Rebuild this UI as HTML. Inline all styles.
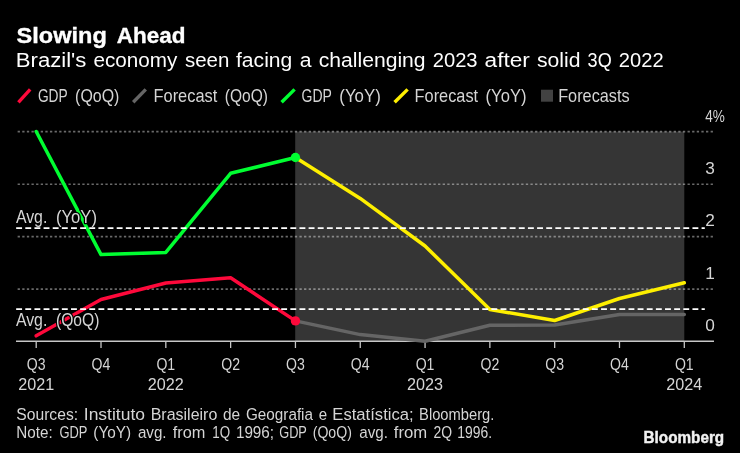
<!DOCTYPE html>
<html><head><meta charset="utf-8"><title>Slowing Ahead</title>
<style>
html,body{margin:0;padding:0;background:#000;}
body{width:740px;height:453px;overflow:hidden;font-family:"Liberation Sans",sans-serif;}
svg{display:block;will-change:transform;opacity:0.999;}
svg text{font-family:"Liberation Sans",sans-serif;}
</style></head><body>
<svg width="740" height="453" viewBox="0 0 740 453">
<rect x="0" y="0" width="740" height="453" fill="#000"/>
<rect x="295.2" y="131.6" width="389.1" height="209.6" fill="#363636"/>
<line x1="16" x2="714" y1="131.7" y2="131.7" stroke="#ffffff" stroke-opacity="0.42" stroke-width="1.7" stroke-dasharray="2.31 2.31" stroke-dashoffset="3"/>
<line x1="16" x2="714" y1="184.25" y2="184.25" stroke="#ffffff" stroke-opacity="0.42" stroke-width="1.7" stroke-dasharray="2.31 2.31" stroke-dashoffset="3"/>
<line x1="16" x2="714" y1="236.7" y2="236.7" stroke="#ffffff" stroke-opacity="0.42" stroke-width="1.7" stroke-dasharray="2.31 2.31" stroke-dashoffset="3"/>
<line x1="16" x2="714" y1="289.1" y2="289.1" stroke="#ffffff" stroke-opacity="0.42" stroke-width="1.7" stroke-dasharray="2.31 2.31" stroke-dashoffset="3"/>
<line x1="16" x2="714" y1="341.2" y2="341.2" stroke="#c8c8c8" stroke-width="1.4"/>
<line x1="36.2" x2="36.2" y1="341" y2="348" stroke="#c8c8c8" stroke-width="1.3"/>
<line x1="101.01" x2="101.01" y1="341" y2="348" stroke="#c8c8c8" stroke-width="1.3"/>
<line x1="165.82" x2="165.82" y1="341" y2="348" stroke="#c8c8c8" stroke-width="1.3"/>
<line x1="230.63" x2="230.63" y1="341" y2="348" stroke="#c8c8c8" stroke-width="1.3"/>
<line x1="295.44" x2="295.44" y1="341" y2="348" stroke="#c8c8c8" stroke-width="1.3"/>
<line x1="360.25" x2="360.25" y1="341" y2="348" stroke="#c8c8c8" stroke-width="1.3"/>
<line x1="425.06" x2="425.06" y1="341" y2="348" stroke="#c8c8c8" stroke-width="1.3"/>
<line x1="489.87" x2="489.87" y1="341" y2="348" stroke="#c8c8c8" stroke-width="1.3"/>
<line x1="554.68" x2="554.68" y1="341" y2="348" stroke="#c8c8c8" stroke-width="1.3"/>
<line x1="619.49" x2="619.49" y1="341" y2="348" stroke="#c8c8c8" stroke-width="1.3"/>
<line x1="684.3" x2="684.3" y1="341" y2="348" stroke="#c8c8c8" stroke-width="1.3"/>
<polyline points="295.44,320.9 360.25,334.6 425.06,341.2 489.87,325.3 554.68,325 619.49,314.5 684.3,314.5" fill="none" stroke="#666666" stroke-width="3.5" stroke-linejoin="round" stroke-linecap="round"/>
<polyline points="36.2,335.8 101.01,299.5 165.82,283 230.63,277.8 295.44,320.9" fill="none" stroke="#ff0a3c" stroke-width="3.5" stroke-linejoin="round" stroke-linecap="round"/>
<polyline points="295.44,157.5 360.25,198.4 425.06,246 489.87,309.5 554.68,320.5 619.49,298.5 684.3,282.8" fill="none" stroke="#fff000" stroke-width="3.5" stroke-linejoin="round" stroke-linecap="round"/>
<polyline points="36.2,131.5 101.01,254.6 165.82,252.4 230.63,173.3 295.44,157.5" fill="none" stroke="#00ff32" stroke-width="3.5" stroke-linejoin="round" stroke-linecap="round"/>
<circle cx="295.44" cy="157.5" r="4.7" fill="#00ff32"/>
<circle cx="295.44" cy="320.9" r="4.7" fill="#ff0a3c"/>
<text stroke="#000" stroke-width="2.6" stroke-linejoin="round" x="15.9" y="222.8" font-size="17.6" font-weight="normal" fill="#000" textLength="31.4" lengthAdjust="spacingAndGlyphs">Avg.</text>
<text stroke="#000" stroke-width="2.6" stroke-linejoin="round" x="56.0" y="222.8" font-size="17.6" font-weight="normal" fill="#000" textLength="41.0" lengthAdjust="spacingAndGlyphs">(YoY)</text>
<text stroke="#000" stroke-width="2.6" stroke-linejoin="round" x="15.9" y="326.2" font-size="17.6" font-weight="normal" fill="#000" textLength="31.4" lengthAdjust="spacingAndGlyphs">Avg.</text>
<text stroke="#000" stroke-width="2.6" stroke-linejoin="round" x="56.0" y="326.2" font-size="17.6" font-weight="normal" fill="#000" textLength="43.4" lengthAdjust="spacingAndGlyphs">(QoQ)</text>
<line x1="16.16" x2="704.8" y1="228.1" y2="228.1" stroke="#ffffff" stroke-width="1.8" stroke-dasharray="5.9 3.239"/>
<line x1="16.16" x2="704.8" y1="309.1" y2="309.1" stroke="#ffffff" stroke-width="1.8" stroke-dasharray="5.9 3.239"/>
<text x="15.9" y="222.8" font-size="17.6" font-weight="normal" fill="#d6d6d6" textLength="31.4" lengthAdjust="spacingAndGlyphs">Avg.</text>
<text x="56.0" y="222.8" font-size="17.6" font-weight="normal" fill="#d6d6d6" textLength="41.0" lengthAdjust="spacingAndGlyphs">(YoY)</text>
<text x="15.9" y="326.2" font-size="17.6" font-weight="normal" fill="#d6d6d6" textLength="31.4" lengthAdjust="spacingAndGlyphs">Avg.</text>
<text x="56.0" y="326.2" font-size="17.6" font-weight="normal" fill="#d6d6d6" textLength="43.4" lengthAdjust="spacingAndGlyphs">(QoQ)</text>
<text stroke="#fff" stroke-width="0.35" x="16.6" y="42.8" font-size="22" font-weight="bold" fill="#ffffff" textLength="90.2" lengthAdjust="spacingAndGlyphs">Slowing</text>
<text stroke="#fff" stroke-width="0.35" x="116.8" y="42.8" font-size="22" font-weight="bold" fill="#ffffff" textLength="68.6" lengthAdjust="spacingAndGlyphs">Ahead</text>
<text x="15.799999999999999" y="67.1" font-size="19.6" font-weight="normal" fill="#ffffff" textLength="70.6" lengthAdjust="spacingAndGlyphs">Brazil's</text>
<text x="93.5" y="67.1" font-size="19.6" font-weight="normal" fill="#ffffff" textLength="83.9" lengthAdjust="spacingAndGlyphs">economy</text>
<text x="184.9" y="67.1" font-size="19.6" font-weight="normal" fill="#ffffff" textLength="44.4" lengthAdjust="spacingAndGlyphs">seen</text>
<text x="236.0" y="67.1" font-size="19.6" font-weight="normal" fill="#ffffff" textLength="56.3" lengthAdjust="spacingAndGlyphs">facing</text>
<text x="299.79999999999995" y="67.1" font-size="19.6" font-weight="normal" fill="#ffffff" textLength="11.8" lengthAdjust="spacingAndGlyphs">a</text>
<text x="318.7" y="67.1" font-size="19.6" font-weight="normal" fill="#ffffff" textLength="106.9" lengthAdjust="spacingAndGlyphs">challenging</text>
<text x="432.7" y="67.1" font-size="19.6" font-weight="normal" fill="#ffffff" textLength="44.9" lengthAdjust="spacingAndGlyphs">2023</text>
<text x="484.59999999999997" y="67.1" font-size="19.6" font-weight="normal" fill="#ffffff" textLength="45.3" lengthAdjust="spacingAndGlyphs">after</text>
<text x="537.0" y="67.1" font-size="19.6" font-weight="normal" fill="#ffffff" textLength="43.5" lengthAdjust="spacingAndGlyphs">solid</text>
<text x="587.6" y="67.1" font-size="19.6" font-weight="normal" fill="#ffffff" textLength="24.1" lengthAdjust="spacingAndGlyphs">3Q</text>
<text x="618.8" y="67.1" font-size="19.6" font-weight="normal" fill="#ffffff" textLength="44.8" lengthAdjust="spacingAndGlyphs">2022</text>
<line x1="18.4" y1="102.3" x2="30.2" y2="89.4" stroke="#ff0a3c" stroke-width="3.4"/>
<text x="37.9" y="101.5" font-size="17.7" font-weight="normal" fill="#d6d6d6" textLength="29.8" lengthAdjust="spacingAndGlyphs">GDP</text>
<text x="75.1" y="101.5" font-size="17.7" font-weight="normal" fill="#d6d6d6" textLength="44.3" lengthAdjust="spacingAndGlyphs">(QoQ)</text>
<line x1="133.2" y1="102.3" x2="145.8" y2="89.4" stroke="#666666" stroke-width="3.4"/>
<text x="153.5" y="101.5" font-size="17.7" font-weight="normal" fill="#d6d6d6" textLength="63.8" lengthAdjust="spacingAndGlyphs">Forecast</text>
<text x="224.8" y="101.5" font-size="17.7" font-weight="normal" fill="#d6d6d6" textLength="43.2" lengthAdjust="spacingAndGlyphs">(QoQ)</text>
<line x1="281.6" y1="102.3" x2="294.6" y2="89.4" stroke="#00ff32" stroke-width="3.4"/>
<text x="301.5" y="101.5" font-size="17.7" font-weight="normal" fill="#d6d6d6" textLength="30.4" lengthAdjust="spacingAndGlyphs">GDP</text>
<text x="339.3" y="101.5" font-size="17.7" font-weight="normal" fill="#d6d6d6" textLength="41.5" lengthAdjust="spacingAndGlyphs">(YoY)</text>
<line x1="394.6" y1="102.3" x2="407.6" y2="89.4" stroke="#fff000" stroke-width="3.4"/>
<text x="414.6" y="101.5" font-size="17.7" font-weight="normal" fill="#d6d6d6" textLength="63.5" lengthAdjust="spacingAndGlyphs">Forecast</text>
<text x="485.6" y="101.5" font-size="17.7" font-weight="normal" fill="#d6d6d6" textLength="40.9" lengthAdjust="spacingAndGlyphs">(YoY)</text>
<rect x="541" y="89.7" width="12" height="12" fill="#434343"/>
<text x="558.2" y="101.5" font-size="17.7" font-weight="normal" fill="#d6d6d6" textLength="71.4" lengthAdjust="spacingAndGlyphs">Forecasts</text>
<text x="705.2" y="121.5" font-size="17.3" font-weight="normal" fill="#d6d6d6" textLength="19.6" lengthAdjust="spacingAndGlyphs">4%</text>
<text x="705.2" y="173.5" font-size="17.3" font-weight="normal" fill="#d6d6d6" textLength="9.6" lengthAdjust="spacingAndGlyphs">3</text>
<text x="705.2" y="226" font-size="17.3" font-weight="normal" fill="#d6d6d6" textLength="9.6" lengthAdjust="spacingAndGlyphs">2</text>
<text x="705.2" y="278.7" font-size="17.3" font-weight="normal" fill="#d6d6d6" textLength="9.6" lengthAdjust="spacingAndGlyphs">1</text>
<text x="705.2" y="330.6" font-size="17.3" font-weight="normal" fill="#d6d6d6" textLength="9.6" lengthAdjust="spacingAndGlyphs">0</text>
<text x="26.800000000000004" y="370" font-size="17.1" font-weight="normal" fill="#d6d6d6" textLength="18.8" lengthAdjust="spacingAndGlyphs">Q3</text>
<text x="91.61" y="370" font-size="17.1" font-weight="normal" fill="#d6d6d6" textLength="18.8" lengthAdjust="spacingAndGlyphs">Q4</text>
<text x="156.42" y="370" font-size="17.1" font-weight="normal" fill="#d6d6d6" textLength="18.8" lengthAdjust="spacingAndGlyphs">Q1</text>
<text x="221.23" y="370" font-size="17.1" font-weight="normal" fill="#d6d6d6" textLength="18.8" lengthAdjust="spacingAndGlyphs">Q2</text>
<text x="286.04" y="370" font-size="17.1" font-weight="normal" fill="#d6d6d6" textLength="18.8" lengthAdjust="spacingAndGlyphs">Q3</text>
<text x="350.85" y="370" font-size="17.1" font-weight="normal" fill="#d6d6d6" textLength="18.8" lengthAdjust="spacingAndGlyphs">Q4</text>
<text x="415.66" y="370" font-size="17.1" font-weight="normal" fill="#d6d6d6" textLength="18.8" lengthAdjust="spacingAndGlyphs">Q1</text>
<text x="480.47" y="370" font-size="17.1" font-weight="normal" fill="#d6d6d6" textLength="18.8" lengthAdjust="spacingAndGlyphs">Q2</text>
<text x="545.28" y="370" font-size="17.1" font-weight="normal" fill="#d6d6d6" textLength="18.8" lengthAdjust="spacingAndGlyphs">Q3</text>
<text x="610.09" y="370" font-size="17.1" font-weight="normal" fill="#d6d6d6" textLength="18.8" lengthAdjust="spacingAndGlyphs">Q4</text>
<text x="674.9" y="370" font-size="17.1" font-weight="normal" fill="#d6d6d6" textLength="18.8" lengthAdjust="spacingAndGlyphs">Q1</text>
<text x="18.200000000000003" y="390.3" font-size="17.1" font-weight="normal" fill="#d6d6d6" textLength="36.0" lengthAdjust="spacingAndGlyphs">2021</text>
<text x="147.82" y="390.3" font-size="17.1" font-weight="normal" fill="#d6d6d6" textLength="36.0" lengthAdjust="spacingAndGlyphs">2022</text>
<text x="407.06" y="390.3" font-size="17.1" font-weight="normal" fill="#d6d6d6" textLength="36.0" lengthAdjust="spacingAndGlyphs">2023</text>
<text x="666.3" y="390.3" font-size="17.1" font-weight="normal" fill="#d6d6d6" textLength="36.0" lengthAdjust="spacingAndGlyphs">2024</text>
<text x="16.3" y="420" font-size="16.3" font-weight="normal" fill="#d6d6d6" textLength="61.8" lengthAdjust="spacingAndGlyphs">Sources:</text>
<text x="83.8" y="420" font-size="16.3" font-weight="normal" fill="#d6d6d6" textLength="61.2" lengthAdjust="spacingAndGlyphs">Instituto</text>
<text x="150.7" y="420" font-size="16.3" font-weight="normal" fill="#d6d6d6" textLength="66.6" lengthAdjust="spacingAndGlyphs">Brasileiro</text>
<text x="223.0" y="420" font-size="16.3" font-weight="normal" fill="#d6d6d6" textLength="17.2" lengthAdjust="spacingAndGlyphs">de</text>
<text x="246.0" y="420" font-size="16.3" font-weight="normal" fill="#d6d6d6" textLength="67.0" lengthAdjust="spacingAndGlyphs">Geografia</text>
<text x="318.8" y="420" font-size="16.3" font-weight="normal" fill="#d6d6d6" textLength="8.4" lengthAdjust="spacingAndGlyphs">e</text>
<text x="332.3" y="420" font-size="16.3" font-weight="normal" fill="#d6d6d6" textLength="81.4" lengthAdjust="spacingAndGlyphs">Estatística;</text>
<text x="419.1" y="420" font-size="16.3" font-weight="normal" fill="#d6d6d6" textLength="75.3" lengthAdjust="spacingAndGlyphs">Bloomberg.</text>
<text x="16.3" y="437.6" font-size="16.3" font-weight="normal" fill="#d6d6d6" textLength="36.4" lengthAdjust="spacingAndGlyphs">Note:</text>
<text x="59.5" y="437.6" font-size="16.3" font-weight="normal" fill="#d6d6d6" textLength="28.0" lengthAdjust="spacingAndGlyphs">GDP</text>
<text x="93.3" y="437.6" font-size="16.3" font-weight="normal" fill="#d6d6d6" textLength="37.8" lengthAdjust="spacingAndGlyphs">(YoY)</text>
<text x="137.9" y="437.6" font-size="16.3" font-weight="normal" fill="#d6d6d6" textLength="28.7" lengthAdjust="spacingAndGlyphs">avg.</text>
<text x="172.7" y="437.6" font-size="16.3" font-weight="normal" fill="#d6d6d6" textLength="32.7" lengthAdjust="spacingAndGlyphs">from</text>
<text x="212.2" y="437.6" font-size="16.3" font-weight="normal" fill="#d6d6d6" textLength="17.9" lengthAdjust="spacingAndGlyphs">1Q</text>
<text x="235.9" y="437.6" font-size="16.3" font-weight="normal" fill="#d6d6d6" textLength="38.2" lengthAdjust="spacingAndGlyphs">1996;</text>
<text x="279.2" y="437.6" font-size="16.3" font-weight="normal" fill="#d6d6d6" textLength="27.7" lengthAdjust="spacingAndGlyphs">GDP</text>
<text x="312.7" y="437.6" font-size="16.3" font-weight="normal" fill="#d6d6d6" textLength="39.2" lengthAdjust="spacingAndGlyphs">(QoQ)</text>
<text x="359.3" y="437.6" font-size="16.3" font-weight="normal" fill="#d6d6d6" textLength="28.7" lengthAdjust="spacingAndGlyphs">avg.</text>
<text x="393.8" y="437.6" font-size="16.3" font-weight="normal" fill="#d6d6d6" textLength="33.4" lengthAdjust="spacingAndGlyphs">from</text>
<text x="433.6" y="437.6" font-size="16.3" font-weight="normal" fill="#d6d6d6" textLength="18.6" lengthAdjust="spacingAndGlyphs">2Q</text>
<text x="457.3" y="437.6" font-size="16.3" font-weight="normal" fill="#d6d6d6" textLength="34.8" lengthAdjust="spacingAndGlyphs">1996.</text>
<text stroke="#f2f2f2" stroke-width="0.45" x="643.6" y="442.8" font-size="17.2" font-weight="bold" fill="#f2f2f2" textLength="80.6" lengthAdjust="spacingAndGlyphs">Bloomberg</text>
</svg></body></html>
